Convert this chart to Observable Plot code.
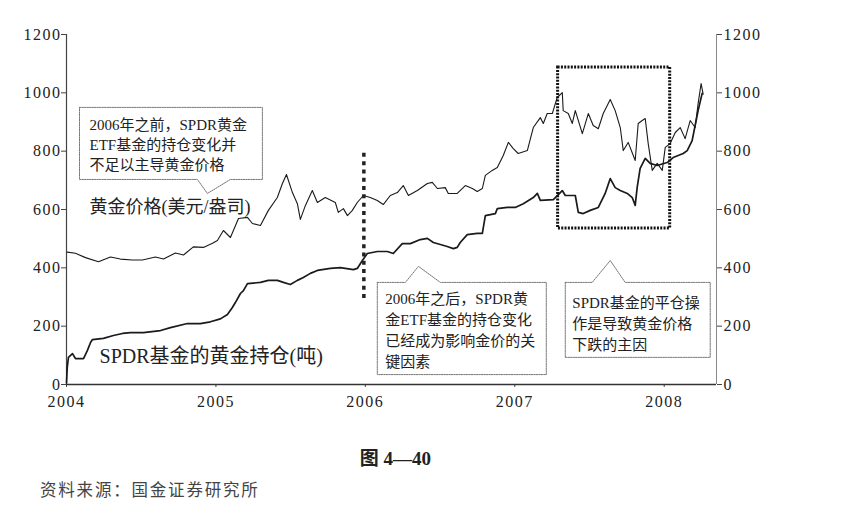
<!DOCTYPE html>
<html><head><meta charset="utf-8">
<script src="https://cdn.jsdelivr.net/npm/d3@7"></script>
<script src="https://cdn.jsdelivr.net/npm/@observablehq/plot@0.6"></script>
<style>
body{margin:0;background:#fff;width:855px;height:515px;position:relative;overflow:hidden;font-family:'Liberation Serif','Noto Sans CJK SC',serif;}
#chart{position:absolute;left:0;top:0;}
#caption{position:absolute;left:0;width:791px;top:443px;text-align:center;font-size:19px;font-weight:bold;color:#222;}
#source{position:absolute;left:40px;top:477px;font-size:16.5px;color:#444;letter-spacing:1.8px;}
</style></head>
<body>
<div id="chart"></div>
<div id="caption">图 4—40</div>
<div id="source">资料来源：国金证券研究所</div>
<script>
// Gold price (USD/oz), x as decimal year
const goldYear = [
  2004.005,2004.060,2004.127,2004.214,2004.294,2004.361,2004.441,2004.508,2004.595,2004.649,2004.729,2004.783,2004.849,2004.916,2004.977,
  2005.010,2005.050,2005.097,2005.151,2005.211,2005.244,2005.298,2005.351,2005.411,2005.445,2005.472,2005.512,2005.545,2005.565,2005.599,2005.645,2005.679,2005.732,2005.799,2005.819,2005.853,2005.880,2005.913,2005.946,2005.987,
  2006.033,2006.080,2006.120,2006.167,2006.214,2006.254,2006.288,2006.348,2006.415,2006.448,2006.482,2006.535,2006.555,2006.615,2006.669,2006.716,2006.749,2006.783,2006.803,2006.849,2006.883,2006.923,2006.957,2006.990,
  2007.023,2007.084,2007.124,2007.171,2007.191,2007.217,2007.251,2007.284,2007.318,2007.324,2007.358,2007.385,2007.405,2007.452,2007.492,2007.525,2007.559,2007.592,2007.639,2007.672,2007.706,2007.726,2007.759,2007.806,2007.826,2007.853,2007.873,2007.893,2007.920,2007.953,2007.987,
  2008.007,2008.040,2008.074,2008.107,2008.140,2008.174,2008.207,2008.227,2008.247,2008.261
];
const goldPrice = [
  454,450,435,421,437,430,427,427,437,430,451,444,472,470,484,
  494,528,504,569,573,552,545,597,641,689,720,658,620,566,614,665,624,641,624,590,603,579,597,624,648,
  641,631,617,648,658,682,648,665,689,693,672,675,655,655,682,672,662,672,717,734,744,785,830,809,
  792,802,881,915,895,929,929,984,1001,939,929,895,939,860,929,888,877,929,977,939,881,802,830,768,895,905,912,826,734,758,734,
  813,826,864,881,843,905,881,963,1032,995
];
// SPDR gold holdings (tonnes)
const spdrYear = [
  2004.000,2004.005,2004.013,2004.040,2004.060,2004.114,2004.140,2004.161,2004.174,2004.247,2004.314,2004.375,2004.428,2004.515,2004.629,2004.696,2004.809,2004.896,2004.963,
  2005.030,2005.077,2005.110,2005.130,2005.164,2005.184,2005.211,2005.298,2005.351,2005.411,2005.452,2005.498,2005.545,2005.585,2005.632,2005.679,2005.766,2005.833,2005.920,2005.946,2005.980,
  2006.013,2006.080,2006.147,2006.187,2006.247,2006.301,2006.368,2006.415,2006.455,2006.502,2006.548,2006.589,2006.615,2006.635,2006.682,2006.749,2006.783,2006.803,2006.870,2006.883,2006.950,
  2007.003,2007.057,2007.124,2007.151,2007.171,2007.258,2007.318,2007.338,2007.405,2007.425,2007.458,2007.505,2007.559,2007.605,2007.639,2007.672,2007.706,2007.753,2007.786,2007.806,2007.819,2007.839,2007.873,2007.906,2007.953,
  2008.020,2008.060,2008.127,2008.154,2008.187,2008.207,2008.227,2008.254
];
const spdrTons = [
  5,58,93,106,89,89,117,144,154,158,168,175,178,178,185,195,209,209,215,
  225,240,264,281,312,322,346,350,357,357,350,343,357,367,381,391,398,401,394,398,425,
  449,456,456,449,483,483,497,501,487,480,473,466,470,487,514,518,518,579,586,603,607,
  607,620,641,655,631,634,665,648,648,590,586,597,607,655,706,675,665,655,641,614,675,741,775,758,751,
  761,778,792,802,836,888,939,998
];
const yearTicks = [2004, 2005, 2006, 2007, 2008];
const valueTicks = [0, 200, 400, 600, 800, 1000, 1200];
const seriesLabels = ["黄金价格(美元/盎司)", "SPDR基金的黄金持仓(吨)"];
const noteTexts = [
  "2006年之前，SPDR黄金\nETF基金的持仓变化并\n不足以主导黄金价格",
  "2006年之后，SPDR黄\n金ETF基金的持仓变化\n已经成为影响金价的关\n键因素",
  "SPDR基金的平仓操\n作是导致黄金价格\n下跌的主因"
];

const gold = goldYear.map((x, i) => ({x, y: goldPrice[i]}));
const spdr = spdrYear.map((x, i) => ({x, y: spdrTons[i]}));
const xMax = 2008.35;

// annotation geometry (data units)
function boxOutline(id, x0, x1, yTop, yBot, ptr) {
  let pts;
  if (ptr.side === "bottom") {
    pts = [[x0,yTop],[x1,yTop],[x1,yBot],[ptr.b,yBot],[ptr.tx,ptr.ty],[ptr.a,yBot],[x0,yBot],[x0,yTop]];
  } else {
    pts = [[x0,yTop],[ptr.a,yTop],[ptr.tx,ptr.ty],[ptr.b,yTop],[x1,yTop],[x1,yBot],[x0,yBot],[x0,yTop]];
  }
  return pts.map(([x,y]) => ({id, x, y}));
}
const outlines = [
  ...boxOutline("b1", 2004.087, 2005.311, 950, 703, {side:"bottom", a:2004.876, b:2005.097, tx:2004.943, ty:655}),
  ...boxOutline("b2", 2006.080, 2007.211, 350, 34, {side:"top", a:2006.268, b:2006.502, tx:2006.355, ty:405}),
  ...boxOutline("b3", 2007.338, 2008.308, 350, 93, {side:"top", a:2007.518, b:2007.739, tx:2007.639, ty:425})
];

const svg = Plot.plot({
  width: 855,
  height: 415,
  marginLeft: 66,
  marginRight: 855 - 716,
  marginTop: 34,
  marginBottom: 31,
  x: {domain: [2004, xMax]},
  y: {domain: [0, 1200]},
  style: {fontFamily: "'Liberation Serif','Noto Sans CJK SC',serif", fontSize: "16px", color: "#222", background: "transparent", overflow: "visible"},
  marks: [
    Plot.axisY({anchor: "left", ticks: valueTicks, tickFormat: d => String(d), tickSize: 5, tickPadding: 0, label: null, stroke: "#444"}),
    Plot.axisY({anchor: "right", ticks: valueTicks, tickFormat: d => String(d), tickSize: 5, tickPadding: 2, label: null, stroke: "#444"}),
    Plot.axisX({ticks: yearTicks, tickFormat: d => String(d), tickSize: 3, tickPadding: 8, label: null, stroke: "#444"}),
    Plot.ruleX([2004], {y1: 0, y2: 1200, stroke: "#444", strokeWidth: 1.2}),
    Plot.ruleX([xMax], {y1: 0, y2: 1200, stroke: "#888", strokeWidth: 1}),
    Plot.ruleY([0], {stroke: "#333", strokeWidth: 1.3}),
    Plot.line(gold, {x: "x", y: "y", stroke: "#1a1a1a", strokeWidth: 1.1}),
    Plot.line(spdr, {x: "x", y: "y", stroke: "#1a1a1a", strokeWidth: 1.7}),
    Plot.ruleX([{x: 2005.99, y1: 295, y2: 800}], {x: "x", y1: "y1", y2: "y2", stroke: "#222", strokeWidth: 3.5, strokeDasharray: "4,4.3"}),
    Plot.rect([{x1: 2007.29, x2: 2008.04, y1: 535, y2: 1087}], {x1: "x1", x2: "x2", y1: "y1", y2: "y2", fill: "none", stroke: "#111", strokeWidth: 3, strokeDasharray: "2,1.3"}),
    Plot.line(outlines, {x: "x", y: "y", z: "id", stroke: "#777", strokeWidth: 1, strokeDasharray: "1.5,1"}),
    Plot.text([{x: 2004.154, y: 826, t: noteTexts[0]}], {x: "x", y: "y", text: "t", textAnchor: "start", lineAnchor: "middle", lineHeight: 1.34, fontSize: 15, fill: "#222", ariaLabel: "note1"}),
    Plot.text([{x: 2006.134, y: 190, t: noteTexts[1]}], {x: "x", y: "y", text: "t", textAnchor: "start", lineAnchor: "middle", lineHeight: 1.4, fontSize: 15, fill: "#222", ariaLabel: "note2"}),
    Plot.text([{x: 2007.385, y: 214, t: noteTexts[2]}], {x: "x", y: "y", text: "t", textAnchor: "start", lineAnchor: "middle", lineHeight: 1.43, fontSize: 15, fill: "#222", ariaLabel: "note3"}),
    Plot.text([{x: 2004.154, y: 607, t: seriesLabels[0]}], {x: "x", y: "y", text: "t", textAnchor: "start", fontSize: 18, fill: "#222", ariaLabel: "label1"}),
    Plot.text([{x: 2004.221, y: 96, t: seriesLabels[1]}], {x: "x", y: "y", text: "t", textAnchor: "start", fontSize: 20, fill: "#222", ariaLabel: "label2"})
  ]
});
const s = d3.select(svg);
s.selectAll('g[aria-label="y-axis tick label"] text, g[aria-label="x-axis tick label"] text').style("letter-spacing", "1.5px");
s.selectAll('g[aria-label="note1"] text').style("letter-spacing", "2px");
s.selectAll('g[aria-label="note2"] text').style("letter-spacing", "0.6px");
s.selectAll('g[aria-label="note3"] text').style("letter-spacing", "2.3px");
s.selectAll('g[aria-label="label1"] text').style("letter-spacing", "2px");
s.selectAll('g[aria-label="label2"] text').style("letter-spacing", "1.5px");
document.getElementById("chart").appendChild(svg);
</script>
</body></html>
